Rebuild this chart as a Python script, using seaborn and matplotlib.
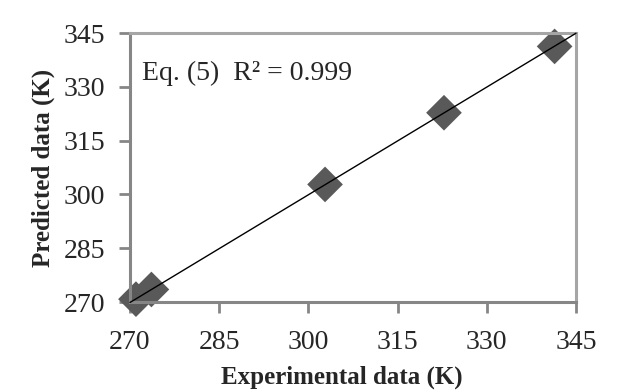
import numpy as np
import pandas as pd
import matplotlib
matplotlib.use('Agg')
import matplotlib.pyplot as plt
import seaborn as sns

# values
experimental = [271.0, 273.6, 302.8, 322.8, 341.4]
predicted = [270.8, 273.5, 302.8, 322.8, 341.3]
ticks = [270, 285, 300, 315, 330, 345]

df = pd.DataFrame({'Experimental': experimental, 'Predicted': predicted})

sns.set_style('white')
plt.rcParams['font.family'] = ['Liberation Serif', 'DejaVu Serif']

fig = plt.figure(figsize=(6.25, 3.9), dpi=100)
ax = fig.add_axes([0.208, 0.2256, 0.7136, 0.6894])
ax.set_xlim(270, 345)
ax.set_ylim(270, 345)

# fitted line over the full axis range
slope, intercept = np.polyfit(df['Experimental'], df['Predicted'], 1)
xs = np.array(ax.get_xlim())
ax.plot(xs, slope * xs + intercept, color='black', lw=1.0, zorder=3, clip_on=False)

sns.scatterplot(data=df, x='Experimental', y='Predicted', ax=ax, marker='D',
                s=330, color='#595959', edgecolor='none', zorder=2, clip_on=False)

ax.set_xticks(ticks)
ax.set_yticks(ticks)
ax.tick_params(axis='both', labelsize=20, direction='out', length=8, width=2,
               color='#868686', bottom=True, left=True)
ax.tick_params(axis='y', pad=10)
ax.tick_params(axis='x', pad=12)
for side in ['left', 'bottom']:
    ax.spines[side].set_color('#868686')
    ax.spines[side].set_linewidth(2.2)
for side in ['top', 'right']:
    ax.spines[side].set_color('#a6a6a6')
    ax.spines[side].set_linewidth(2.2)

ax.set_xlabel('Experimental data (K)', fontsize=18, fontweight='bold', labelpad=8)
ax.xaxis.label.set_x(0.475)
ax.set_ylabel('Predicted data (K)', fontsize=18, fontweight='bold', labelpad=6)

ax.text(0.027, 0.85, 'Eq. (5)  R\u00b2 = 0.999', transform=ax.transAxes,
        fontsize=20, va='center', ha='left')

plt.savefig('out.png', dpi=100)
